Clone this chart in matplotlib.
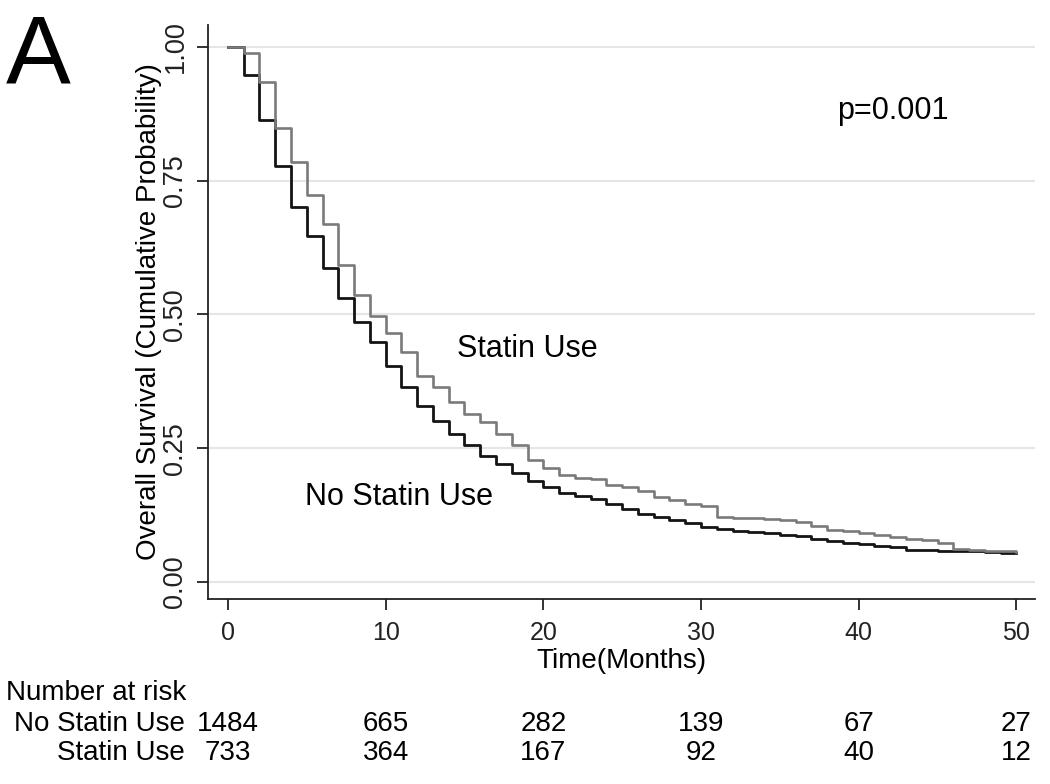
"""Kaplan-Meier overall survival, statin use vs no statin use (panel A)."""

import matplotlib

matplotlib.use("Agg")
import matplotlib.pyplot as plt
from matplotlib.transforms import blended_transform_factory

plt.rcParams.update({"font.family": ["Liberation Sans", "DejaVu Sans"]})

# --- data --------------------------------------------------------------------
MONTHS = list(range(51))

NO_STATIN = [
    1.000, 0.948, 0.864, 0.778, 0.700, 0.647, 0.586, 0.530, 0.485, 0.449,
    0.404, 0.365, 0.329, 0.300, 0.277, 0.255, 0.236, 0.220, 0.204, 0.188,
    0.178, 0.167, 0.161, 0.155, 0.146, 0.136, 0.127, 0.121, 0.116, 0.110,
    0.102, 0.099, 0.096, 0.093, 0.091, 0.088, 0.085, 0.080, 0.077, 0.072,
    0.070, 0.067, 0.065, 0.060, 0.059, 0.058, 0.057, 0.057, 0.055, 0.054,
    0.054,
]
STATIN = [
    1.000, 0.989, 0.934, 0.849, 0.785, 0.723, 0.670, 0.593, 0.536, 0.497,
    0.466, 0.430, 0.385, 0.365, 0.337, 0.314, 0.299, 0.276, 0.256, 0.228,
    0.212, 0.200, 0.195, 0.192, 0.181, 0.177, 0.169, 0.159, 0.153, 0.146,
    0.141, 0.121, 0.120, 0.119, 0.118, 0.116, 0.111, 0.105, 0.097, 0.095,
    0.092, 0.088, 0.083, 0.081, 0.078, 0.073, 0.062, 0.060, 0.058, 0.057,
    0.055,
]

RISK_TIMES = [0, 10, 20, 30, 40, 50]
RISK_NO_STATIN = [1484, 665, 282, 139, 67, 27]
RISK_STATIN = [733, 364, 167, 92, 40, 12]

Y_TICKS = [0.0, 0.25, 0.50, 0.75, 1.0]
Y_TICK_LABELS = ["0.00", "0.25", "0.50", "0.75", "1.00"]
X_TICKS = [0, 10, 20, 30, 40, 50]

# --- figure ------------------------------------------------------------------
fig = plt.figure(figsize=(10.5, 7.84), dpi=100)
ax = fig.add_axes([0.198, 0.236, 0.788, 0.732])

for y in Y_TICKS:
    ax.axhline(y, color="#e6e6e6", lw=1.5, zorder=0)

ax.step(MONTHS, NO_STATIN, where="post", color="#141414", lw=2.0, zorder=2)
ax.step(MONTHS, STATIN, where="post", color="#7a7a7a", lw=1.9, zorder=3)

ax.set_xlim(-1.27, 51.2)
ax.set_ylim(-0.032, 1.041)
ax.set_xticks(X_TICKS)
ax.set_yticks(Y_TICKS)
ax.set_yticklabels(Y_TICK_LABELS, rotation=90, va="center")
ax.tick_params(axis="x", labelsize=18, length=8, width=1.3, pad=8, colors="#222")
ax.tick_params(axis="y", labelsize=19.5, length=8, width=1.3, pad=6, colors="#222")
for side in ("top", "right"):
    ax.spines[side].set_visible(False)
for side in ("left", "bottom"):
    ax.spines[side].set_linewidth(1.3)
    ax.spines[side].set_color("#222")

ax.set_xlabel("Time(Months)", fontsize=20, labelpad=2)
ax.set_ylabel("Overall Survival (Cumulative Probability)", fontsize=20)
ax.yaxis.set_label_coords(-0.056, 0.5)

ax.text(14.5, 0.435, "Statin Use", fontsize=22, va="center", ha="left")
ax.text(4.9, 0.159, "No Statin Use", fontsize=22, va="center", ha="left")
ax.text(38.6, 0.881, "p=0.001", fontsize=22, va="center", ha="left")

fig.text(0.036, 0.927, "A", fontsize=70, ha="center", va="center")

# number-at-risk table under the axis
tr = blended_transform_factory(ax.transData, fig.transFigure)
fig.text(0.006, 0.116, "Number at risk", fontsize=20, ha="left", va="center")
fig.text(0.176, 0.0765, "No Statin Use", fontsize=20, ha="right", va="center")
fig.text(0.176, 0.0395, "Statin Use", fontsize=20, ha="right", va="center")
for t, a, b in zip(RISK_TIMES, RISK_NO_STATIN, RISK_STATIN):
    ax.text(t, 0.0765, str(a), transform=tr, fontsize=20, ha="center", va="center")
    ax.text(t, 0.0395, str(b), transform=tr, fontsize=20, ha="center", va="center")

fig.savefig("out.png", dpi=100)
